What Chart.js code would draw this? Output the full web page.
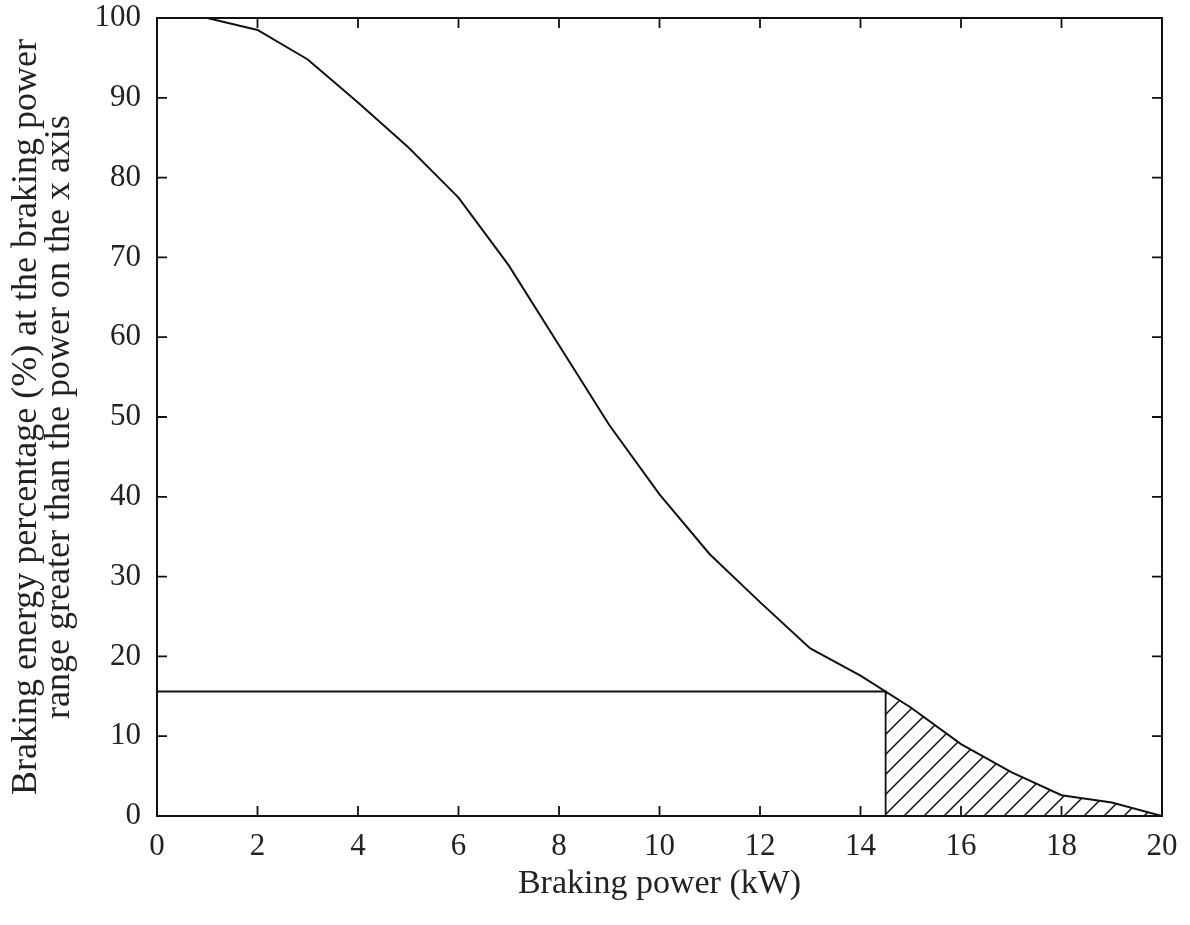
<!DOCTYPE html>
<html>
<head>
<meta charset="utf-8">
<script src="https://cdn.jsdelivr.net/npm/chart.js@4.4.1/dist/chart.umd.min.js"></script>
<style>
  html, body { margin: 0; padding: 0; background: #fff; }
  #wrap { width: 1190px; height: 925px; }
</style>
</head>
<body>
<div id="wrap"><canvas id="brakeChart" width="1190" height="925"></canvas></div>
<script>
// braking power (kW) and share of braking energy above that power (%)
var powerKW = [0, 1, 2, 3, 4, 5, 6, 7, 8, 9, 10, 11, 12, 13, 14, 15, 16, 17, 18, 19, 20];
var energyPct = [100, 100, 98.5, 94.8, 89.4, 83.8, 77.5, 69, 59, 49, 40.3, 32.8, 26.8, 21, 17.6, 13.6, 9, 5.5, 2.6, 1.7, 0];

// marked operating point
var markPower = 14.5;
var markPct = 15.6;

var xTicks = [0, 2, 4, 6, 8, 10, 12, 14, 16, 18, 20];
var yTicks = [0, 10, 20, 30, 40, 50, 60, 70, 80, 90, 100];

var FONT = "'Liberation Serif', 'DejaVu Serif', serif";

function toPoints(xs, ys) {
    var pts = [];
    for (var i = 0; i < xs.length; i++) pts.push({ x: xs[i], y: ys[i] });
    return pts;
}

var curve = toPoints(powerKW, energyPct);

// tail of the curve beyond the marked power, for the hatched area
var tail = [{ x: markPower, y: markPct }];
curve.forEach(function (p) { if (p.x > markPower) tail.push(p); });

var guide = [
    { x: 0, y: markPct },
    { x: markPower, y: markPct },
    { x: markPower, y: 0 }
];

function makeHatch() {
    var s = 20;
    var c = document.createElement('canvas');
    c.width = s; c.height = s;
    var g = c.getContext('2d');
    g.strokeStyle = '#111';
    g.lineWidth = 1.5;
    g.beginPath();
    g.moveTo(-2, s + 2); g.lineTo(s + 2, -2);
    g.moveTo(-2, 2); g.lineTo(2, -2);
    g.moveTo(s - 2, s + 2); g.lineTo(s + 2, s - 2);
    g.stroke();
    return g.createPattern(c, 'repeat');
}

// frame round the plot with inward ticks on all four sides
var frameTicks = {
    id: 'frameTicks',
    afterDraw: function (chart) {
        var ctx = chart.ctx, a = chart.chartArea;
        var xs = chart.scales.x, ys = chart.scales.y;
        var len = 10;
        ctx.save();
        ctx.strokeStyle = '#111';
        ctx.lineWidth = 2;
        ctx.strokeRect(a.left, a.top, a.right - a.left, a.bottom - a.top);
        ctx.lineWidth = 1.8;
        ctx.beginPath();
        xTicks.forEach(function (v) {
            var px = xs.getPixelForValue(v);
            ctx.moveTo(px, a.bottom); ctx.lineTo(px, a.bottom - len);
            ctx.moveTo(px, a.top); ctx.lineTo(px, a.top + len);
        });
        yTicks.forEach(function (v) {
            var py = ys.getPixelForValue(v);
            ctx.moveTo(a.left, py); ctx.lineTo(a.left + len, py);
            ctx.moveTo(a.right, py); ctx.lineTo(a.right - len, py);
        });
        ctx.stroke();
        ctx.restore();
    }
};

var ctx = document.getElementById('brakeChart').getContext('2d');
var chart = new Chart(ctx, {
    type: 'scatter',
    data: {
        datasets: [
            {
                label: 'hatch',
                data: tail,
                showLine: true,
                borderWidth: 0,
                borderColor: 'rgba(0,0,0,0)',
                backgroundColor: makeHatch(),
                fill: 'origin',
                pointRadius: 0
            },
            {
                label: 'guide',
                data: guide,
                showLine: true,
                borderColor: '#111',
                borderWidth: 1.8,
                pointRadius: 0,
                fill: false
            },
            {
                label: 'energy',
                data: curve,
                showLine: true,
                borderColor: '#111',
                borderWidth: 2,
                pointRadius: 0,
                fill: false,
                tension: 0
            }
        ]
    },
    options: {
        responsive: false,
        animation: false,
        layout: { padding: { top: 18, right: 28, left: 0, bottom: 0 } },
        plugins: {
            legend: { display: false },
            tooltip: { enabled: false }
        },
        scales: {
            x: {
                type: 'linear',
                min: 0,
                max: 20,
                afterBuildTicks: function (s) { s.ticks = xTicks.map(function (v) { return { value: v }; }); },
                afterFit: function (s) { s.height = 109; },
                grid: { display: false, drawTicks: false },
                border: { display: false },
                ticks: {
                    color: '#222',
                    padding: 12,
                    font: { family: FONT, size: 31 }
                },
                title: {
                    display: true,
                    text: 'Braking power (kW)',
                    color: '#222',
                    padding: { top: 4, bottom: 21 },
                    font: { family: FONT, size: 34 }
                }
            },
            y: {
                type: 'linear',
                min: 0,
                max: 100,
                afterBuildTicks: function (s) { s.ticks = yTicks.map(function (v) { return { value: v }; }); },
                afterFit: function (s) {
                    s.width = 157;
                    // keep the top label overflow from pushing the plot down
                    s.paddingTop = 0;
                    s.paddingBottom = 0;
                },
                grid: { display: false, drawTicks: false },
                border: { display: false },
                ticks: {
                    color: '#222',
                    padding: 16,
                    font: { family: FONT, size: 31 }
                },
                title: {
                    display: true,
                    text: ['Braking energy percentage (%) at the braking power',
                           'range greater than the power on the x axis'],
                    color: '#222',
                    padding: { top: 10, bottom: 0 },
                    font: { family: FONT, size: 36, lineHeight: 0.92 }
                }
            }
        }
    },
    plugins: [frameTicks]
});
</script>
</body>
</html>
